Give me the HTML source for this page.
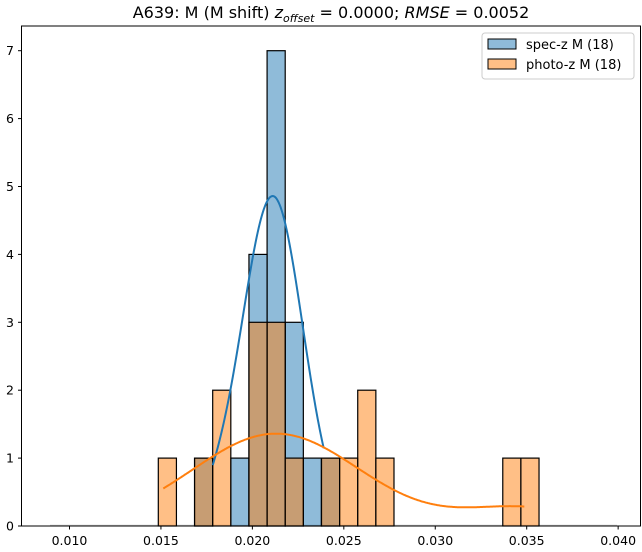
<!DOCTYPE html>
<html><head><meta charset="utf-8"><style>
body{margin:0;background:#fff;}
svg{display:block;font-family:"DejaVu Sans","Liberation Sans",sans-serif;}
</style></head><body>
<svg id="s" width="642" height="552" viewBox="0 0 642 552" xmlns="http://www.w3.org/2000/svg">
<rect width="642" height="552" fill="#fff"/>
<text x="331" y="18" font-size="16" text-anchor="middle">A639: M (M shift) <tspan font-style="italic">z</tspan><tspan font-style="italic" font-size="11" dy="4">offset</tspan><tspan dy="-4"> = 0.0000; </tspan><tspan font-style="italic">RMSE</tspan> = 0.0052</text>
<line x1="50" y1="525.3" x2="617" y2="525.3" stroke="#ccc" stroke-width="1"/>
<g id="bars" stroke="#000" stroke-width="1.2"></g>
<path id="kb" fill="none" stroke="#1f77b4" stroke-width="2"/>
<path id="ko" fill="none" stroke="#ff7f0e" stroke-width="2"/>
<rect x="21.5" y="26" width="619" height="500" fill="none" stroke="#000" stroke-width="1"/>
<g id="ticks" font-size="12.5" fill="#000"></g>
<rect x="482" y="33" width="152" height="46" rx="3" fill="#fff" fill-opacity="0.8" stroke="#ccc"/>
<rect x="488" y="39" width="28" height="10" fill="#1f77b4" fill-opacity="0.5" stroke="#000"/>
<rect x="488" y="59" width="28" height="10" fill="#ff7f0e" fill-opacity="0.5" stroke="#000"/>
<text x="526" y="49" font-size="13">spec-z M (18)</text>
<text x="526" y="69" font-size="13">photo-z M (18)</text>
</svg>
<script>
var NS="http://www.w3.org/2000/svg";
function el(t,a,p){var e=document.createElementNS(NS,t);for(var k in a)e.setAttribute(k,a[k]);p.appendChild(e);return e;}
var y0=526,u=67.9,e0=158.3,w=18.13;
var bars=document.getElementById('bars');
var spec={2:1,4:1,5:4,6:7,7:3,8:1,9:1};
var photo={0:1,2:1,3:2,5:3,6:3,7:1,9:1,10:1,11:2,12:1,19:1,20:1};
function draw(d,c){for(var i in d){var x=e0+i*w;el('rect',{x:x,y:y0-d[i]*u,width:w,height:d[i]*u,fill:c,'fill-opacity':0.5},bars);}}
draw(spec,'#1f77b4');draw(photo,'#ff7f0e');
function path(f,a,b){var s='';for(var x=a;x<=b;x+=1){s+=(x==a?'M':'L')+x.toFixed(1)+','+(y0-f(x)*u).toFixed(1);}return s;}
document.getElementById('kb').setAttribute('d',path(function(x){var s=x<272.7?31:30;return 4.86*Math.exp(-Math.pow(x-272.7,2)/(2*s*s))+0.15*Math.exp(-Math.pow(x-215,2)/(2*15*15));},212.7,324.3));
document.getElementById('ko').setAttribute('d',path(function(x){return 1.36*Math.exp(-Math.pow(x-276,2)/(2*84*84))+0.27*Math.exp(-Math.pow(x-522,2)/(2*58*58));},163.3,525));
var t=document.getElementById('ticks');
for(var i=0;i<=7;i++){var y=y0-i*u;el('line',{x1:18,x2:21.5,y1:y,y2:y,stroke:'#000'},t);var tx=el('text',{x:14,y:y+4.5,'text-anchor':'end'},t);tx.textContent=i;}
for(var i=0;i<7;i++){var x=69.5+i*91.44;el('line',{x1:x,x2:x,y1:526,y2:529.5,stroke:'#000'},t);var tx=el('text',{x:x,y:545,'text-anchor':'middle'},t);tx.textContent=(0.010+i*0.005).toFixed(3);}
</script>
</body></html>
